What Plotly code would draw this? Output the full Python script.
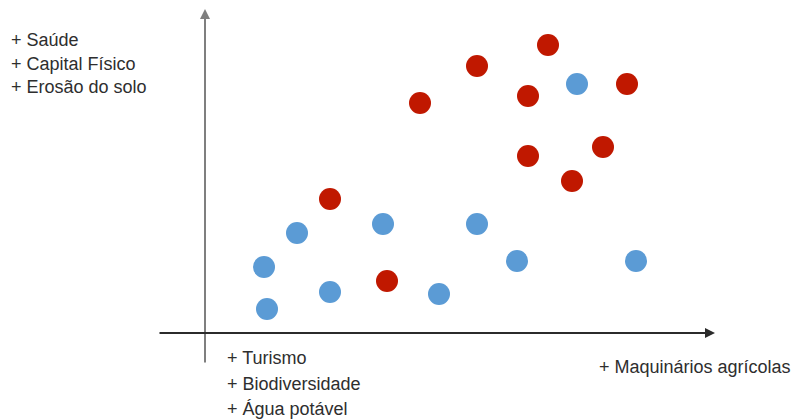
import plotly.graph_objects as go

# Data (arbitrary units; origin at the axis crossing)
red_x = [34.3, 27.2, 21.5, 32.3, 42.2, 39.8, 32.3, 36.7, 12.5, 18.2]
red_y = [28.8, 26.7, 23.0, 23.7, 24.9, 18.6, 17.7, 15.2, 13.4, 5.2]
blue_x = [37.2, 9.2, 17.8, 27.2, 5.9, 31.2, 43.1, 12.5, 23.4, 6.2]
blue_y = [24.9, 10.0, 10.9, 10.9, 6.6, 7.2, 7.2, 4.1, 3.9, 2.4]

y_labels = ["+ Saúde", "+ Capital Físico", "+ Erosão do solo"]
x_low_labels = ["+ Turismo", "+ Biodiversidade", "+ Água potável"]
x_high_label = "+ Maquinários agrícolas"

FONT = "Liberation Sans, Arial"
TXT = "#2e2e2e"
FS = 18

fig = go.Figure()
fig.add_trace(go.Scatter(x=red_x, y=red_y, mode="markers",
                         marker=dict(size=22, color="#C01800", line=dict(width=0)),
                         showlegend=False, hoverinfo="skip"))
fig.add_trace(go.Scatter(x=blue_x, y=blue_y, mode="markers",
                         marker=dict(size=22, color="#5B9BD5", line=dict(width=0)),
                         showlegend=False, hoverinfo="skip"))

# Axis arrows
fig.add_annotation(x=0, y=32.4, ax=0, ay=-3.1, xref="x", yref="y", axref="x", ayref="y",
                   showarrow=True, arrowhead=2, arrowsize=1.0, arrowwidth=2,
                   arrowcolor="#7f7f7f", text="")
fig.add_annotation(x=51.0, y=0, ax=-4.7, ay=0, xref="x", yref="y", axref="x", ayref="y",
                   showarrow=True, arrowhead=2, arrowsize=1.0, arrowwidth=2,
                   arrowcolor="#2b2b2b", text="")

# Text labels
for i, t in enumerate(y_labels):
    fig.add_annotation(x=-19.6, y=29.3 - i * 2.35, xref="x", yref="y", text=t,
                       showarrow=False, xanchor="left", yanchor="middle",
                       font=dict(family=FONT, size=FS, color=TXT))
for i, t in enumerate(x_low_labels):
    fig.add_annotation(x=2.0, y=-2.5 - i * 2.55, xref="x", yref="y", text=t,
                       showarrow=False, xanchor="left", yanchor="middle",
                       font=dict(family=FONT, size=FS, color=TXT))
fig.add_annotation(x=39.2, y=-3.4, xref="x", yref="y", text=x_high_label,
                   showarrow=False, xanchor="left", yanchor="middle",
                   font=dict(family=FONT, size=FS, color=TXT))

fig.update_layout(
    width=799, height=419,
    margin=dict(l=0, r=0, t=0, b=0),
    paper_bgcolor="white", plot_bgcolor="white",
    xaxis=dict(range=[-19.7, 60.2], visible=False, fixedrange=True),
    yaxis=dict(range=[-9.4, 32.5], visible=False, fixedrange=True),
)

fig.write_html("out.html")
